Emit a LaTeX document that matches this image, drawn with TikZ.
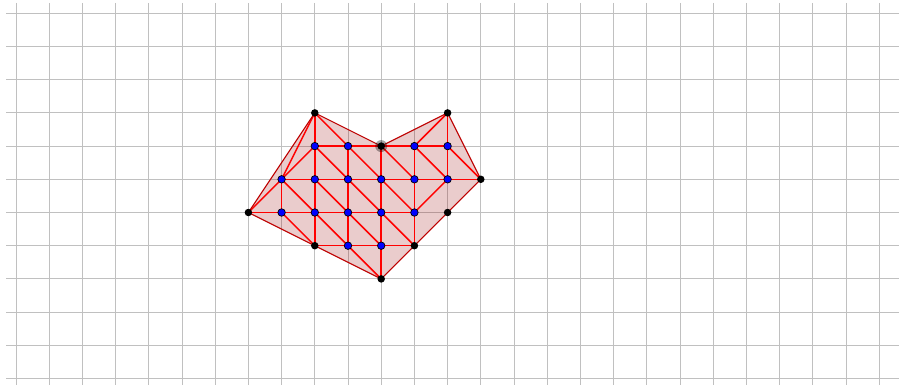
\documentclass[tikz,border=0pt]{standalone}
\definecolor{gridgray}{RGB}{192,192,192}
\definecolor{edgered}{RGB}{255,0,0}
\definecolor{borderred}{RGB}{190,0,0}
\definecolor{polybase}{RGB}{150,0,0}
\definecolor{ptblue}{RGB}{0,0,255}
\begin{document}
\begin{tikzpicture}[x=1pt,y=-1pt,
  gridline/.style={draw=gridgray,line width=1pt},
  inner/.style={draw=edgered,line width=1.5pt},
  border/.style={draw=borderred,line width=1.1pt},
  blackpt/.style={circle,fill=black,inner sep=0pt,minimum size=7.5pt},
  bluept/.style={circle,fill=ptblue,draw=black,line width=0.7pt,inner sep=0pt,minimum size=7.5pt},
  halo/.style={circle,fill=black,fill opacity=0.35,inner sep=0pt,minimum size=12pt}]
\useasboundingbox (0,0) rectangle (899,385);
\fill[white] (0,0) rectangle (899,385);
% grid
\foreach \k in {0,...,26} \draw[gridline] ({16+\k*33.2},3) -- ({16+\k*33.2},385);
\foreach \k in {0,...,11} \draw[gridline] (6,{13.3+\k*33.2}) -- (899,{13.3+\k*33.2});
% lattice coordinates
\foreach \i in {7,...,14} \foreach \j in {3,...,8}
  \coordinate (P\i-\j) at ({16+\i*33.2},{13.3+\j*33.2});
% polygon fill
\fill[polybase,fill opacity=0.2] (P9-3) -- (P11-4) -- (P13-3) -- (P14-5) -- (P13-6) -- (P12-7) -- (P11-8) -- (P9-7) -- (P7-6) -- cycle;
% horizontal edges
\draw[inner] (P9-4) -- (P13-4);
\draw[inner] (P8-5) -- (P14-5);
\draw[inner] (P7-6) -- (P12-6);
\draw[inner] (P9-7) -- (P12-7);
% vertical edges
\draw[inner] (P8-5) -- (P8-6);
\draw[inner] (P9-3) -- (P9-7);
\draw[inner] (P10-4) -- (P10-7);
\draw[inner] (P11-4) -- (P11-8);
\draw[inner] (P12-4) -- (P12-7);
\draw[inner] (P13-3) -- (P13-5);
% diagonals down-right
\foreach \a/\b/\c/\d in {9/3/10/4, 9/4/10/5, 10/4/11/5, 11/4/12/5, 12/4/13/5, 13/4/14/5,
  8/5/9/6, 9/5/10/6, 10/5/11/6, 11/5/12/6,
  8/6/9/7, 9/6/10/7, 10/6/11/7, 11/6/12/7, 10/7/11/8}
  \draw[inner] (P\a-\b) -- (P\c-\d);
% diagonals up-right and others
\foreach \a/\b/\c/\d in {7/6/8/5, 8/5/9/4, 12/6/13/5, 12/4/13/3, 9/3/8/5}
  \draw[inner] (P\a-\b) -- (P\c-\d);
% boundary
\draw[border,line join=round] (P9-3) -- (P11-4) -- (P13-3) -- (P14-5) -- (P13-6) -- (P12-7) -- (P11-8) -- (P9-7) -- (P7-6) -- cycle;
% points
\node[halo] (h11-4) at (P11-4) {};
\foreach \i/\j in {9/3, 13/3, 11/4, 14/5, 7/6, 13/6, 9/7, 12/7, 11/8}
  \node[blackpt] (d\i-\j) at (P\i-\j) {};
\foreach \i/\j in {9/4, 10/4, 12/4, 13/4,
  8/5, 9/5, 10/5, 11/5, 12/5, 13/5,
  8/6, 9/6, 10/6, 11/6, 12/6,
  10/7, 11/7}
  \node[bluept] (d\i-\j) at (P\i-\j) {};
\end{tikzpicture}
\end{document}
